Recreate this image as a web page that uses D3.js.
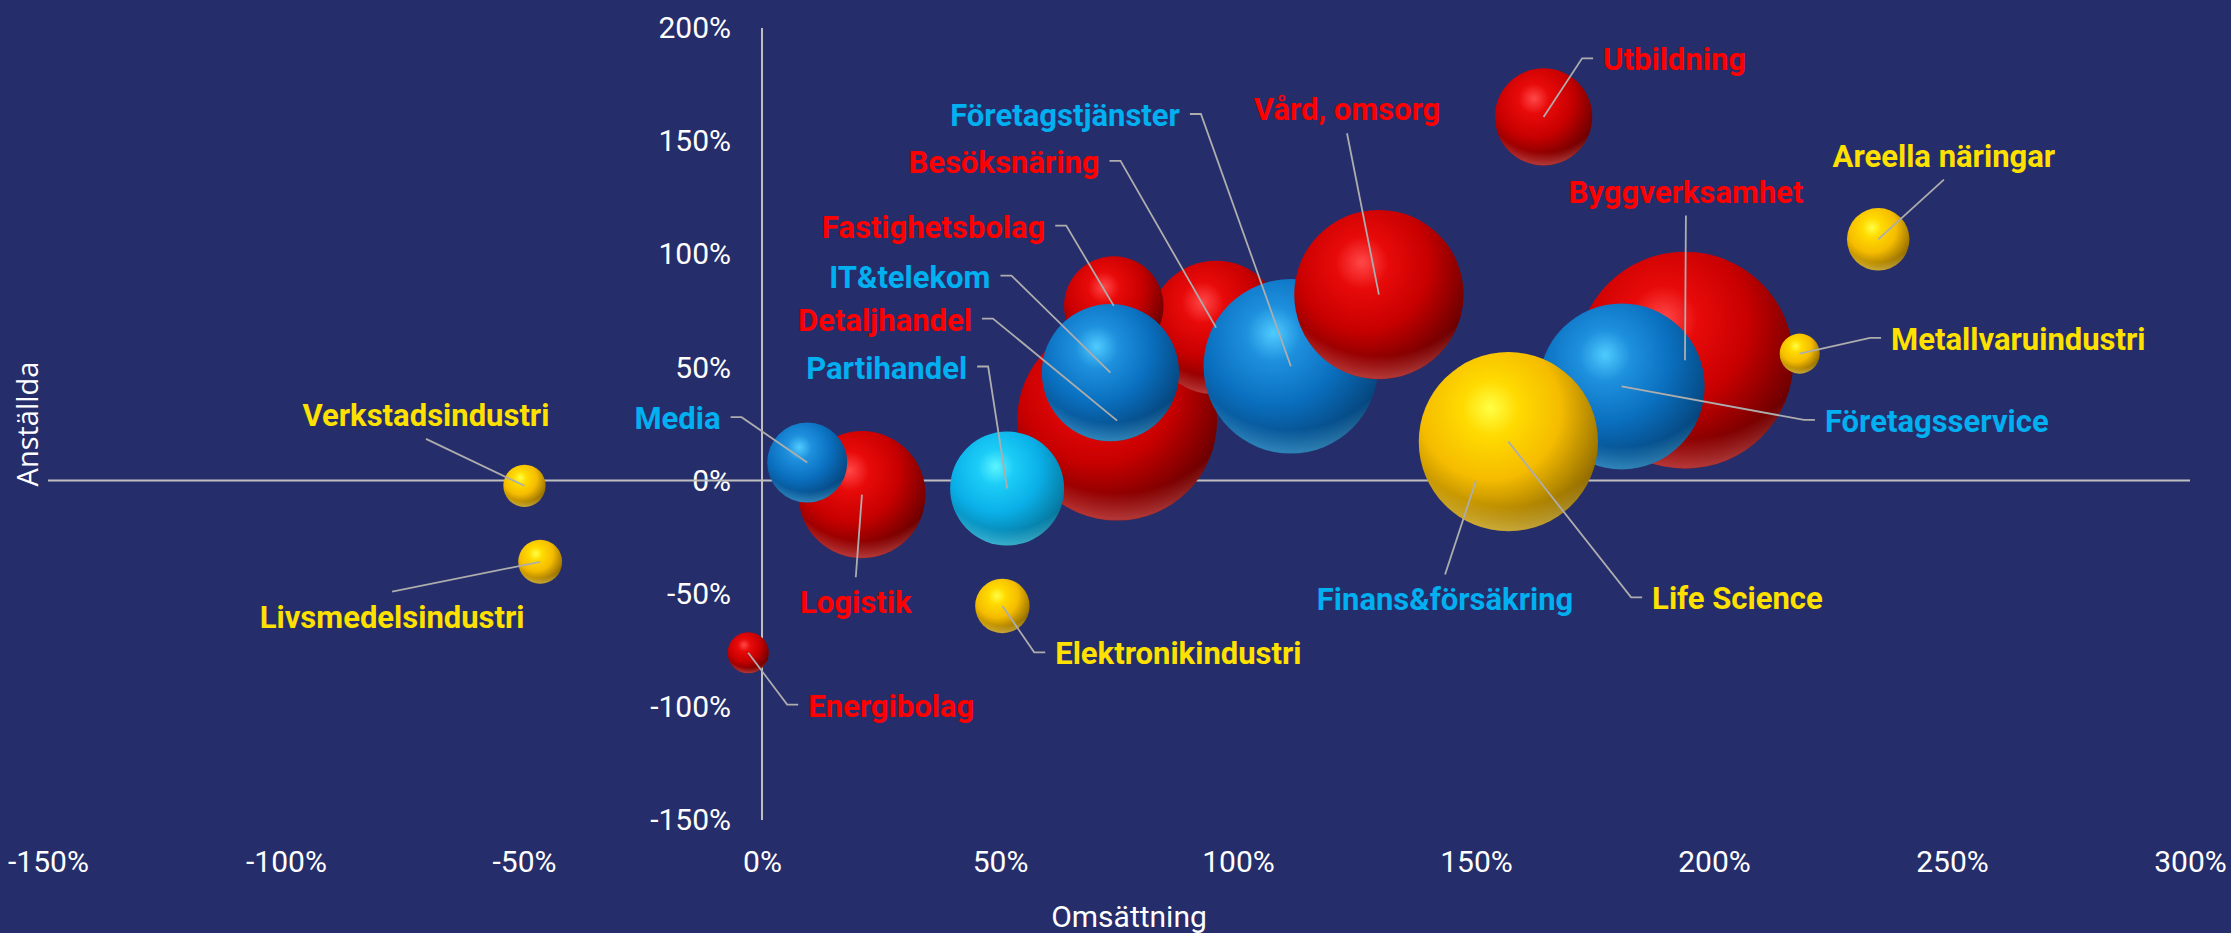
<!DOCTYPE html>
<html>
<head>
<meta charset="utf-8">
<script src="https://cdn.jsdelivr.net/npm/d3@7"></script>
<style>
  html, body { margin: 0; padding: 0; background: #262D6B; overflow: hidden; }
  svg { display: block; }
</style>
</head>
<body>
<svg id="chart" width="2231" height="933"></svg>
<script>
// ---------------- DATA (draw order: back to front) ----------------
const branscher = [
  "Byggverksamhet", "Företagsservice", "Finans&försäkring", "Life Science",
  "Detaljhandel", "Besöksnäring", "Fastighetsbolag", "IT&telekom",
  "Partihandel", "Företagstjänster", "Vård, omsorg", "Logistik", "Media",
  "Utbildning", "Areella näringar", "Metallvaruindustri", "Elektronikindustri",
  "Energibolag", "Verkstadsindustri", "Livsmedelsindustri"
];
// Omsättning (x, %)
const omsattning = [193.9, 180.6, 150.0, 156.8, 74.6, 95.4, 73.9, 73.2, 51.5, 111.1,
                    129.6, 21.0, 9.5, 164.2, 234.5, 218.0, 50.5, -2.9, -49.9, -46.6];
// Anställda (y, %)
const anstallda  = [53.2, 41.6, 0.0, 17.2, 26.5, 67.6, 77.2, 47.7, -3.5, 50.5,
                    82.2, -6.2, 8.0, 160.7, 106.6, 56.1, -55.4, -76.1, -2.3, -35.9];
// Bubbelstorlek (relativ)
const storlek    = [100, 58.5, 6.0, 68.2, 84.9, 38.1, 21.0, 40.0, 27.6, 64.7,
                    60.9, 34.3, 13.6, 20.1, 8.3, 3.4, 6.3, 3.6, 3.8, 4.1];
const grupp      = ["röd", "blå", "blå", "gul", "röd", "röd", "röd", "blå", "ljusblå", "blå",
                    "röd", "röd", "blå", "röd", "gul", "gul", "gul", "röd", "gul", "gul"];

const xTicks = [-150, -100, -50, 0, 50, 100, 150, 200, 250, 300];
const yTicks = [-150, -100, -50, 0, 50, 100, 150, 200];

// ---------------- ANNOTATION LAYOUT (label attach points in data units) ----------------
const labelAt = [
  [194.1, 117.1], [221.2, 26.8], [143.5, -41.5], [184.9, -51.6],
  [46.2, 71.6], [73.0, 141.3], [61.6, 112.7], [50.1, 90.6],
  [45.2, 50.4], [89.9, 162.0], [122.9, 153.5], [19.7, -42.7], [-6.6, 28.0],
  [174.6, 186.6], [248.3, 133.0], [235.1, 63.1], [59.5, -75.9],
  [7.6, -99.0], [-70.6, 18.4], [-77.7, -49.1]
];
// side of the label where the leader line starts: r = right edge, l = left edge, b = bottom, t = top
const labelSide = ["b", "l", "t", "l", "r", "r", "r", "r", "r", "r", "b", "t", "r",
                   "l", "b", "l", "l", "l", "b", "t"];

// ---------------- STYLE ----------------
const labelColor = { "röd": "#FF0000", "blå": "#00B0F0", "ljusblå": "#00B0F0", "gul": "#FFE100" };
const shade = {
  "röd":     { hi: "#FF4848", mid: "#E80A0A", base: "#C80000", dark: "#740000", edge: "#3A0000", rim: "#FF6A6A" },
  "blå":     { hi: "#4FCBFF", mid: "#1E90DD", base: "#0A70C0", dark: "#064A84", edge: "#03284A", rim: "#55C0F5" },
  "ljusblå": { hi: "#5CF4FF", mid: "#1CCDF7", base: "#0AB0E8", dark: "#067CA4", edge: "#034A62", rim: "#66E6FF" },
  "gul":     { hi: "#FFFF45", mid: "#FFDA00", base: "#F5BC00", dark: "#9C7400", edge: "#574000", rim: "#FFE36A" }
};

const W = 2231, H = 933;
const svg = d3.select("#chart");
svg.append("rect").attr("width", W).attr("height", H).attr("fill", "#262D6B");

const x = d3.scaleLinear().domain([-150, 300]).range([48, 2190]);
const y = d3.scaleLinear().domain([-150, 200]).range([820, 28]);
const r = d3.scaleSqrt().domain([0, 100]).range([0, 108.5]);

// gradients
const defs = svg.append("defs");
Object.entries(shade).forEach(([k, c]) => {
  const g = defs.append("radialGradient").attr("id", "g-" + k)
    .attr("cx", 0.4).attr("cy", 0.33).attr("r", 0.78).attr("fx", 0.4).attr("fy", 0.31);
  [[0, c.hi], [0.2, c.mid], [0.5, c.base], [0.82, c.dark], [1, c.edge]]
    .forEach(([o, col]) => g.append("stop").attr("offset", o).attr("stop-color", col));
  const rim = defs.append("radialGradient").attr("id", "rim-" + k)
    .attr("cx", 0.5).attr("cy", 0.2).attr("r", 0.85);
  [[0, 0], [0.78, 0], [0.93, 0.5], [1, 0.3]]
    .forEach(([o, a]) => rim.append("stop").attr("offset", o).attr("stop-color", c.rim).attr("stop-opacity", a));
});

// axes (tick labels)
const fontTick = "Roboto, 'Liberation Sans', sans-serif";
const xAxis = svg.append("g").attr("transform", `translate(0,${y(-150)})`)
  .call(d3.axisBottom(x).tickValues(xTicks).tickFormat(d => d + "%").tickSize(0).tickPadding(31));
const yAxis = svg.append("g").attr("transform", `translate(${x(0)},0)`)
  .call(d3.axisLeft(y).tickValues(yTicks).tickFormat(d => d + "%").tickSize(0).tickPadding(31));
[xAxis, yAxis].forEach(a => {
  a.select(".domain").remove();
  a.selectAll("text").attr("fill", "#FFFFFF").style("font-family", fontTick).style("font-size", "30px");
});

// zero lines
svg.append("line").attr("x1", x(0)).attr("x2", x(0)).attr("y1", y(200)).attr("y2", y(-150))
  .attr("stroke", "#BFBFBF").attr("stroke-width", 2);
svg.append("line").attr("x1", x(-150)).attr("x2", x(300)).attr("y1", y(0)).attr("y2", y(0))
  .attr("stroke", "#BFBFBF").attr("stroke-width", 2);

// axis titles
svg.append("text").attr("transform", `translate(38,${(y(200) + y(-150)) / 2}) rotate(-90)`)
  .attr("text-anchor", "middle").attr("fill", "#FFFFFF")
  .style("font-family", "'Open Sans', sans-serif").style("font-size", "29px").text("Anställda");
svg.append("text").attr("x", 1129).attr("y", 927).attr("text-anchor", "middle").attr("fill", "#FFFFFF")
  .style("font-family", fontTick).style("font-size", "30px").text("Omsättning");

// data rows
const rows = branscher.map((n, i) => ({
  namn: n, ox: omsattning[i], ay: anstallda[i], s: storlek[i], g: grupp[i],
  lx: labelAt[i][0], ly: labelAt[i][1], side: labelSide[i]
}));

// bubbles
const bub = svg.append("g").selectAll("g").data(rows).join("g");
bub.append("circle").attr("cx", d => x(d.ox)).attr("cy", d => y(d.ay)).attr("r", d => r(d.s))
  .attr("fill", d => `url(#g-${d.g})`);
bub.append("circle").attr("cx", d => x(d.ox)).attr("cy", d => y(d.ay)).attr("r", d => r(d.s))
  .attr("fill", d => `url(#rim-${d.g})`);

// leader lines
svg.append("g").selectAll("path").data(rows).join("path")
  .attr("fill", "none").attr("stroke", "#ADADAD").attr("stroke-width", 1.8)
  .attr("d", d => {
    const ax = x(d.lx), ay = y(d.ly), px = x(d.ox), py = y(d.ay);
    if (d.side === "r") return `M${ax},${ay}H${ax + 11}L${px},${py}`;
    if (d.side === "l") return `M${ax},${ay}H${ax - 11}L${px},${py}`;
    return `M${ax},${ay}L${px},${py}`;
  });

// labels
svg.append("g").selectAll("text").data(rows).join("text")
  .attr("x", d => {
    const ax = x(d.lx);
    return d.side === "r" ? ax - 10 : d.side === "l" ? ax + 10 : ax;
  })
  .attr("y", d => {
    const ay = y(d.ly);
    return d.side === "b" ? ay - 13 : d.side === "t" ? ay + 36 : ay + 12;
  })
  .attr("text-anchor", d => d.side === "r" ? "end" : d.side === "l" ? "start" : "middle")
  .attr("fill", d => labelColor[d.g])
  .style("font-family", fontTick).style("font-weight", "bold").style("font-size", "31px")
  .text(d => d.namn);
</script>
</body>
</html>
